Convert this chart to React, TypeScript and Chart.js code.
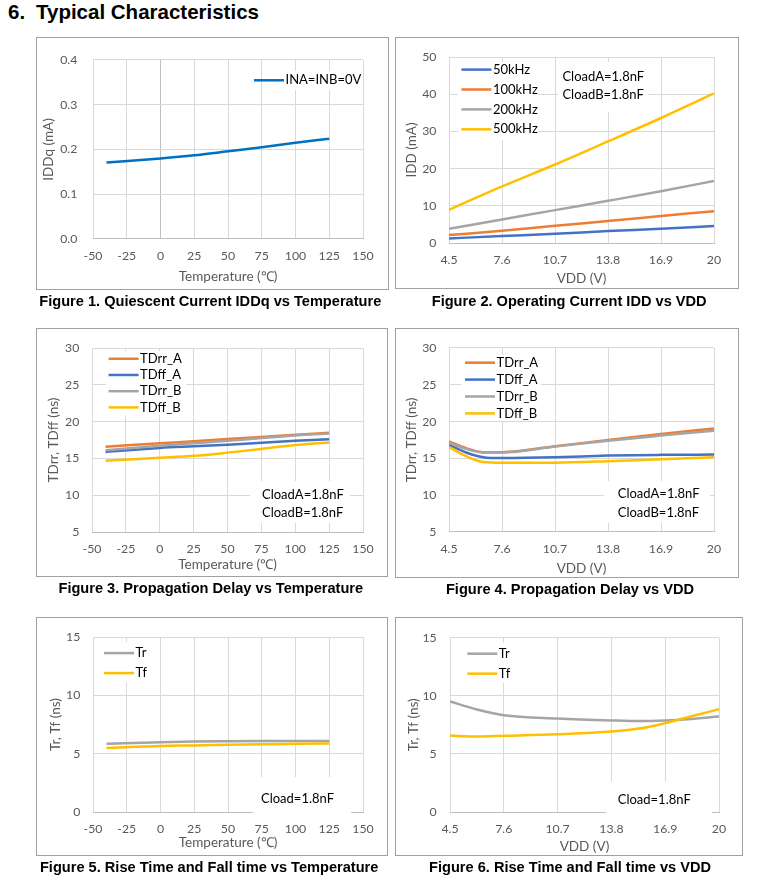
import React, { useEffect, useRef } from 'react';
import { Chart, registerables } from 'chart.js';

Chart.register(...registerables);

const FONT = 'Lato, "Open Sans", sans-serif';
const TICK_COLOR = '#595959';
const GRID = '#D9D9D9';
const AXIS = '#BFBFBF';

const BLUE = '#4472C4';
const ORANGE = '#ED7D31';
const GRAY = '#A5A5A5';
const YELLOW = '#FFC000';
const DEEPBLUE = '#0070C0';

// ---------- data ----------
const tempTicks = [-50, -25, 0, 25, 50, 75, 100, 125, 150];
const vddTicks = [4.5, 7.6, 10.7, 13.8, 16.9, 20];

// Figure 1
const f1Temp = [-40, 0, 25, 50, 75, 100, 125];
const f1Iddq = [0.171, 0.18, 0.187, 0.196, 0.205, 0.215, 0.224];
const f1YTicks = [0, 0.1, 0.2, 0.3, 0.4];

// Figure 2
const f2Vdd = [4.5, 7.6, 10.7, 13.8, 16.9, 20];
const f2Idd50k = [1.23, 1.87, 2.49, 3.2, 3.83, 4.55];
const f2Idd100k = [2.14, 3.29, 4.63, 5.89, 7.23, 8.57];
const f2Idd200k = [3.83, 6.33, 8.84, 11.33, 13.9, 16.7];
const f2Idd500k = [8.92, 15.2, 21.1, 27.3, 33.6, 40.2];
const f2YTicks = [0, 10, 20, 30, 40, 50];

// Figure 3
const f3Temp = [-40, 0, 25, 50, 75, 100, 125];
const f3TDrrA = [16.6, 17.05, 17.35, 17.64, 17.93, 18.22, 18.49];
const f3TDffA = [15.89, 16.43, 16.65, 16.87, 17.13, 17.4, 17.6];
const f3TDrrB = [16.1, 16.74, 17.07, 17.4, 17.77, 18.13, 18.4];
const f3TDffB = [14.67, 15.08, 15.35, 15.79, 16.29, 16.83, 17.18];
const delayTicks = [5, 10, 15, 20, 25, 30];

// Figure 4
const f4Vdd = [4.5, 5.5, 6.5, 7.6, 10.7, 13.8, 16.9, 20];
const f4TDrrA = [17.3, 16.4, 15.85, 15.85, 16.65, 17.5, 18.3, 19.07];
const f4TDffA = [16.85, 15.8, 15.17, 15.05, 15.15, 15.38, 15.48, 15.52];
const f4TDrrB = [17.1, 16.3, 15.8, 15.8, 16.6, 17.4, 18.1, 18.76];
const f4TDffB = [16.55, 15.3, 14.5, 14.4, 14.42, 14.62, 14.89, 15.16];

// Figure 5
const f5Temp = [-40, 0, 25, 50, 75, 100, 125];
const f5Tr = [5.85, 5.99, 6.05, 6.07, 6.08, 6.08, 6.08];
const f5Tf = [5.49, 5.66, 5.71, 5.77, 5.82, 5.85, 5.88];
const riseTicks = [0, 5, 10, 15];

// Figure 6
const f6Vdd = [4.5, 6, 7.6, 10.7, 13.8, 15.5, 16.9, 18.2, 20];
const f6Tr = [9.51, 8.84, 8.33, 8.05, 7.88, 7.82, 7.88, 7.99, 8.21];
const f6Tf = [6.58, 6.5, 6.56, 6.69, 6.92, 7.2, 7.65, 8.16, 8.84];

// ---------- plugin ----------
const overlayPlugin = {
  id: 'overlay',
  beforeDatasetsDraw(chart: any, _a: any, opts: any) {
    const { ctx, chartArea: a } = chart;
    ctx.save();
    ctx.fillStyle = '#ffffff';
    (opts.boxes || []).forEach((b: any) => ctx.fillRect(a.left + b.x, a.top + b.y, b.w, b.h));
    ctx.restore();
  },
  afterDatasetsDraw(chart: any, _a: any, opts: any) {
    const { ctx, chartArea: a } = chart;
    ctx.save();
    ctx.font = '13px ' + FONT;
    ctx.textBaseline = 'middle';
    ctx.textAlign = 'left';
    const L = opts.legend;
    if (L) {
      chart.data.datasets.forEach((ds: any, i: number) => {
        const y = a.top + L.y + i * L.rowH;
        const x = a.left + L.x;
        ctx.strokeStyle = ds.borderColor;
        ctx.lineWidth = 2.5;
        ctx.beginPath();
        ctx.moveTo(x, y);
        ctx.lineTo(x + 30, y);
        ctx.stroke();
        ctx.fillStyle = '#000';
        ctx.fillText(ds.label, x + 31.5, y);
      });
    }
    const N = opts.notes;
    if (N) {
      ctx.fillStyle = '#000';
      N.lines.forEach((t: string, i: number) => ctx.fillText(t, a.left + N.x, a.top + N.y + i * N.rowH));
    }
    ctx.restore();
  },
};

// ---------- chart specs ----------
type Spec = any;

const series = (label: string, xs: number[], ys: number[], color: string) => ({ label, xs, ys, color });

const specs: Spec[] = [
  {
    box: { l: 36, t: 37, w: 353, h: 253 },
    plot: { l: 57, t: 20, r: 327, b: 202 },
    series: [series('INA=INB=0V', f1Temp, f1Iddq, DEEPBLUE)],
    xTicks: tempTicks, xMin: -50, xMax: 150, xFmt: (v: number) => String(v),
    yTicks: f1YTicks, yMin: 0, yMax: 0.4, yFmt: (v: number) => v.toFixed(1),
    xTitle: 'Temperature (\u2103)', xTitlePad: 5,
    yTitle: 'IDDq (mA)', yTitlePad: 4.2, yTickPad: 15.6,
    zeroLine: true,
    overlay: {
      boxes: [{ x: 190, y: 11, w: 78, h: 19 }],
      legend: { x: 161, y: 20.3, rowH: 20 },
    },
    caption: 'Figure 1. Quiescent Current IDDq vs Temperature', capX: 210.3, capY: 293.7,
  },
  {
    box: { l: 395, t: 37, w: 344, h: 252 },
    plot: { l: 54, t: 20, r: 319, b: 206 },
    series: [
      series('50kHz', f2Vdd, f2Idd50k, BLUE),
      series('100kHz', f2Vdd, f2Idd100k, ORANGE),
      series('200kHz', f2Vdd, f2Idd200k, GRAY),
      series('500kHz', f2Vdd, f2Idd500k, YELLOW),
    ],
    xTicks: vddTicks, xMin: 4.5, xMax: 20, xFmt: (v: number) => String(v),
    yTicks: f2YTicks, yMin: 0, yMax: 50, yFmt: (v: number) => String(v),
    xTitle: 'VDD (V)', xTitlePad: 2.7,
    yTitle: 'IDD (mA)', yTitlePad: 8.9, yTickPad: 12.6,
    overlay: {
      boxes: [{ x: 9, y: 5, w: 80, h: 78 }, { x: 109, y: 5, w: 90, h: 50 }],
      legend: { x: 12.4, y: 12.6, rowH: 19.9 },
      notes: { x: 113.4, y: 20, rowH: 18.3, lines: ['CloadA=1.8nF', 'CloadB=1.8nF'] },
    },
    caption: 'Figure 2. Operating Current IDD vs VDD', capX: 569.2, capY: 294.4,
  },
  {
    box: { l: 36, t: 328, w: 352, h: 249 },
    plot: { l: 56, t: 19, r: 327, b: 204 },
    series: [
      series('TDrr_A', f3Temp, f3TDrrA, ORANGE),
      series('TDff_A', f3Temp, f3TDffA, BLUE),
      series('TDrr_B', f3Temp, f3TDrrB, GRAY),
      series('TDff_B', f3Temp, f3TDffB, YELLOW),
    ],
    xTicks: tempTicks, xMin: -50, xMax: 150, xFmt: (v: number) => String(v),
    yTicks: delayTicks, yMin: 5, yMax: 30, yFmt: (v: number) => String(v),
    xTitle: 'Temperature (\u2103)', xTitlePad: 4,
    yTitle: 'TDrr, TDff (ns)', yTitlePad: 9.5, yTickPad: 12.7,
    overlay: {
      boxes: [{ x: 14, y: 3, w: 80, h: 64 }, { x: 158, y: 133, w: 100, h: 42 }],
      legend: { x: 16.6, y: 10.7, rowH: 16.2 },
      notes: { x: 170, y: 147, rowH: 17.7, lines: ['CloadA=1.8nF', 'CloadB=1.8nF'] },
    },
    caption: 'Figure 3. Propagation Delay vs Temperature', capX: 210.8, capY: 581,
  },
  {
    box: { l: 395, t: 328, w: 344, h: 250 },
    plot: { l: 54, t: 19, r: 319, b: 204 },
    series: [
      series('TDrr_A', f4Vdd, f4TDrrA, ORANGE),
      series('TDff_A', f4Vdd, f4TDffA, BLUE),
      series('TDrr_B', f4Vdd, f4TDrrB, GRAY),
      series('TDff_B', f4Vdd, f4TDffB, YELLOW),
    ],
    xTicks: vddTicks, xMin: 4.5, xMax: 20, xFmt: (v: number) => String(v),
    yTicks: delayTicks, yMin: 5, yMax: 30, yFmt: (v: number) => String(v),
    xTitle: 'VDD (V)', xTitlePad: 1.7,
    yTitle: 'TDrr, TDff (ns)', yTitlePad: 8.9, yTickPad: 12.6,
    overlay: {
      boxes: [{ x: 12, y: 6, w: 80, h: 67 }, { x: 155, y: 133, w: 106, h: 42 }],
      legend: { x: 16, y: 14.7, rowH: 16.9 },
      notes: { x: 168.7, y: 146.3, rowH: 18.4, lines: ['CloadA=1.8nF', 'CloadB=1.8nF'] },
    },
    caption: 'Figure 4. Propagation Delay vs VDD', capX: 570, capY: 581.5,
  },
  {
    box: { l: 36, t: 617, w: 352, h: 239 },
    plot: { l: 57, t: 17, r: 327, b: 195 },
    series: [series('Tr', f5Temp, f5Tr, GRAY), series('Tf', f5Temp, f5Tf, YELLOW)],
    xTicks: tempTicks, xMin: -50, xMax: 150, xFmt: (v: number) => String(v),
    yTicks: riseTicks, yMin: 0, yMax: 15, yFmt: (v: number) => String(v),
    xTitle: 'Temperature (\u2103)', xTitlePad: 5.7,
    yTitle: 'Tr, Tf (ns)', yTitlePad: 11.2, yTickPad: 12.7,
    overlay: {
      boxes: [{ x: 8, y: 5, w: 52, h: 40 }, { x: 160, y: 140, w: 98, h: 36 }],
      legend: { x: 11, y: 16, rowH: 20 },
      notes: { x: 168, y: 161.7, rowH: 18, lines: ['Cload=1.8nF'] },
    },
    caption: 'Figure 5. Rise Time and Fall time vs Temperature', capX: 209.2, capY: 860.4,
  },
  {
    box: { l: 395, t: 617, w: 348, h: 239 },
    plot: { l: 55, t: 17, r: 324, b: 195 },
    series: [series('Tr', f6Vdd, f6Tr, GRAY), series('Tf', f6Vdd, f6Tf, YELLOW)],
    xTicks: vddTicks, xMin: 4.5, xMax: 20, xFmt: (v: number) => String(v),
    yTicks: riseTicks, yMin: 0, yMax: 15, yFmt: (v: number) => String(v),
    xTitle: 'VDD (V)', xTitlePad: 1,
    yTitle: 'Tr, Tf (ns)', yTitlePad: 10.5, yTickPad: 13.3,
    overlay: {
      boxes: [{ x: 10, y: 5, w: 54, h: 40 }, { x: 156, y: 144, w: 106, h: 33 }],
      legend: { x: 17.3, y: 16, rowH: 20 },
      notes: { x: 167.7, y: 161.7, rowH: 18, lines: ['Cload=1.8nF'] },
    },
    caption: 'Figure 6. Rise Time and Fall time vs VDD', capX: 570, capY: 860.4,
  },
];

function makeConfig(s: Spec): any {
  const W = s.box.w;
  const H = s.box.h;
  const p = s.plot;
  return {
    type: 'line',
    data: {
      datasets: s.series.map((d: any, i: number) => ({
        label: d.label,
        data: d.xs.map((x: number, k: number) => ({ x, y: d.ys[k] })),
        borderColor: d.color,
        backgroundColor: d.color,
        borderWidth: 2.5,
        pointRadius: 0,
        pointHoverRadius: 0,
        fill: false,
        cubicInterpolationMode: 'monotone',
        order: -i,
      })),
    },
    options: {
      responsive: false,
      animation: false,
      events: [],
      layout: { padding: { left: 0, top: p.t, right: W - p.r, bottom: 0 } },
      plugins: {
        legend: { display: false },
        tooltip: { enabled: false },
        overlay: s.overlay,
      },
      scales: {
        x: {
          type: 'linear',
          min: s.xMin,
          max: s.xMax,
          afterBuildTicks: (sc: any) => {
            sc.ticks = s.xTicks.map((v: number) => ({ value: v }));
          },
          afterFit: (sc: any) => {
            sc.height = H - p.b;
          },
          ticks: {
            autoSkip: false,
            maxRotation: 0,
            minRotation: 0,
            padding: 9.6,
            color: TICK_COLOR,
            font: { family: FONT, size: 12.3 },
            callback: (v: any) => s.xFmt(Number(v)),
          },
          grid: {
            drawTicks: false,
            lineWidth: 1,
            color: (c: any) => (s.zeroLine && c.tick && c.tick.value === 0 ? AXIS : GRID),
          },
          border: { display: true, color: AXIS, width: 1 },
          title: {
            display: true,
            text: s.xTitle,
            color: TICK_COLOR,
            font: { family: FONT, size: 13.5 },
            padding: { top: 0, bottom: s.xTitlePad },
          },
        },
        y: {
          type: 'linear',
          min: s.yMin,
          max: s.yMax,
          afterBuildTicks: (sc: any) => {
            sc.ticks = s.yTicks.map((v: number) => ({ value: v }));
          },
          afterFit: (sc: any) => {
            sc.width = p.l;
          },
          ticks: {
            autoSkip: false,
            padding: s.yTickPad,
            color: TICK_COLOR,
            font: { family: FONT, size: 12.3 },
            callback: (v: any) => s.yFmt(Number(v)),
          },
          grid: {
            drawTicks: false,
            lineWidth: 1,
            color: (c: any) => (c.tick && c.tick.value === s.yMin ? 'rgba(0,0,0,0)' : GRID),
          },
          border: { display: false },
          title: {
            display: true,
            text: s.yTitle,
            color: TICK_COLOR,
            font: { family: FONT, size: 13.5 },
            padding: { top: s.yTitlePad, bottom: 0 },
          },
        },
      },
    },
    plugins: [overlayPlugin],
  };
}

function ChartBox({ spec }: { spec: Spec }) {
  const ref = useRef<HTMLCanvasElement | null>(null);
  useEffect(() => {
    if (!ref.current) return;
    const chart = new Chart(ref.current, makeConfig(spec));
    return () => chart.destroy();
  }, [spec]);
  const b = spec.box;
  return (
    <>
      <canvas
        ref={ref}
        width={b.w}
        height={b.h}
        style={{ position: 'absolute', left: b.l, top: b.t, width: b.w, height: b.h }}
      />
      <div
        style={{
          position: 'absolute',
          left: b.l,
          top: b.t,
          width: b.w,
          height: b.h,
          border: '1px solid #A0A0A0',
          boxSizing: 'border-box',
          pointerEvents: 'none',
        }}
      />
      <div
        style={{
          position: 'absolute',
          left: spec.capX,
          top: spec.capY,
          transform: 'translateX(-50%)',
          whiteSpace: 'nowrap',
          font: 'bold 14.6px "Liberation Sans", Arial, sans-serif',
          lineHeight: '14.6px',
          color: '#000',
        }}
      >
        {spec.caption}
      </div>
    </>
  );
}

export default function App() {
  return (
    <div
      style={{
        position: 'absolute',
        left: 0,
        top: 0,
        width: 783,
        height: 896,
        background: '#fff',
        overflow: 'hidden',
      }}
    >
      <div
        style={{
          position: 'absolute',
          left: 8,
          top: 2.4,
          font: 'bold 20.5px "Liberation Sans", Arial, sans-serif',
          lineHeight: '20px',
          color: '#000',
          whiteSpace: 'nowrap',
        }}
      >
        6.
      </div>
      <div
        style={{
          position: 'absolute',
          left: 36,
          top: 2.4,
          font: 'bold 20.5px "Liberation Sans", Arial, sans-serif',
          lineHeight: '20px',
          color: '#000',
          whiteSpace: 'nowrap',
        }}
      >
        Typical Characteristics
      </div>
      {specs.map((s, i) => (
        <ChartBox key={i} spec={s} />
      ))}
    </div>
  );
}
